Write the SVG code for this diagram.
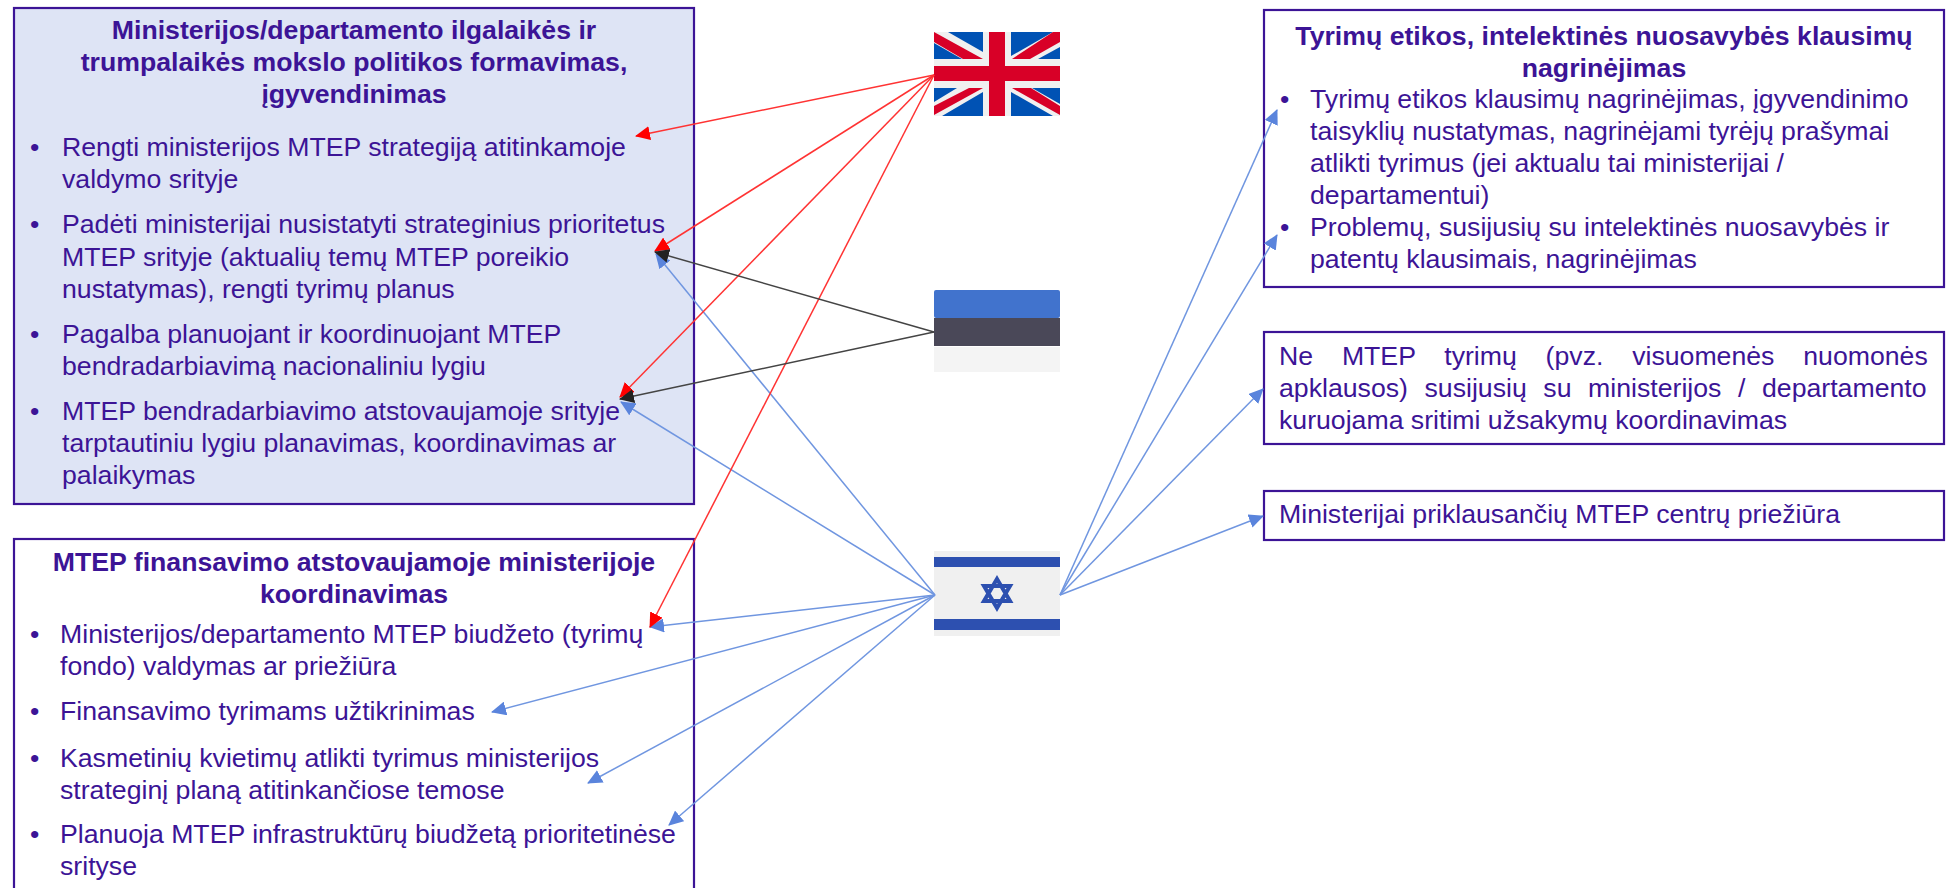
<svg xmlns="http://www.w3.org/2000/svg" width="1948" height="888" viewBox="0 0 1948 888">
<style>
text{font-family:"Liberation Sans",Arial,sans-serif;font-size:26.67px;fill:#3c1496}
.h{font-weight:bold;text-anchor:middle}
.b{fill:#fff;stroke:#3c1496;stroke-width:2.2}
.r{stroke:#f33;stroke-width:1.5;fill:none}
.k{stroke:#444;stroke-width:1.5;fill:none}
.u{stroke:#7096e0;stroke-width:1.5;fill:none}
</style>
<defs>
<marker id="mr" markerUnits="userSpaceOnUse" markerWidth="15" markerHeight="14" refX="14" refY="7" orient="auto"><path d="M0 0L15 7L0 14Z" fill="#f00"/></marker>
<marker id="mk" markerUnits="userSpaceOnUse" markerWidth="15" markerHeight="14" refX="14" refY="7" orient="auto"><path d="M0 0L15 7L0 14Z" fill="#222"/></marker>
<marker id="mu" markerUnits="userSpaceOnUse" markerWidth="15" markerHeight="14" refX="14" refY="7" orient="auto"><path d="M0 0L15 7L0 14Z" fill="#5a84dc"/></marker>
</defs>
<g id="box-policy">
<rect class="b" x="14" y="8" width="680" height="496" style="fill:#dee4f5"/>
<text class="h" x="354" y="39">Ministerijos/departamento ilgalaikės ir</text>
<text class="h" x="354" y="71">trumpalaikės mokslo politikos formavimas,</text>
<text class="h" x="354" y="103">įgyvendinimas</text>
<text x="30" y="156">•</text><text x="62" y="156">Rengti ministerijos MTEP strategiją atitinkamoje</text>
<text x="62" y="188">valdymo srityje</text>
<text x="30" y="233">•</text><text x="62" y="233">Padėti ministerijai nusistatyti strateginius prioritetus</text>
<text x="62" y="266">MTEP srityje (aktualių temų MTEP poreikio</text>
<text x="62" y="298">nustatymas), rengti tyrimų planus</text>
<text x="30" y="343">•</text><text x="62" y="343">Pagalba planuojant ir koordinuojant MTEP</text>
<text x="62" y="375">bendradarbiavimą nacionaliniu lygiu</text>
<text x="30" y="420">•</text><text x="62" y="420">MTEP bendradarbiavimo atstovaujamoje srityje</text>
<text x="62" y="452">tarptautiniu lygiu planavimas, koordinavimas ar</text>
<text x="62" y="484">palaikymas</text>
</g>
<g id="box-funding">
<rect class="b" x="14" y="539" width="680" height="360"/>
<text class="h" x="354" y="571">MTEP finansavimo atstovaujamoje ministerijoje</text>
<text class="h" x="354" y="603">koordinavimas</text>
<text x="30" y="643">•</text><text x="60" y="643">Ministerijos/departamento MTEP biudžeto (tyrimų</text>
<text x="60" y="675">fondo) valdymas ar priežiūra</text>
<text x="30" y="720">•</text><text x="60" y="720">Finansavimo tyrimams užtikrinimas</text>
<text x="30" y="767">•</text><text x="60" y="767">Kasmetinių kvietimų atlikti tyrimus ministerijos</text>
<text x="60" y="799">strateginį planą atitinkančiose temose</text>
<text x="30" y="843">•</text><text x="60" y="843">Planuoja MTEP infrastruktūrų biudžetą prioritetinėse</text>
<text x="60" y="875">srityse</text>
</g>
<g id="box-ethics">
<rect class="b" x="1264" y="10" width="680" height="277"/>
<text class="h" x="1604" y="45">Tyrimų etikos, intelektinės nuosavybės klausimų</text>
<text class="h" x="1604" y="77">nagrinėjimas</text>
<text x="1280" y="108">•</text><text x="1310" y="108">Tyrimų etikos klausimų nagrinėjimas, įgyvendinimo</text>
<text x="1310" y="140">taisyklių nustatymas, nagrinėjami tyrėjų prašymai</text>
<text x="1310" y="172">atlikti tyrimus (jei aktualu tai ministerijai /</text>
<text x="1310" y="204">departamentui)</text>
<text x="1280" y="236">•</text><text x="1310" y="236">Problemų, susijusių su intelektinės nuosavybės ir</text>
<text x="1310" y="268">patentų klausimais, nagrinėjimas</text>
</g>
<g id="box-orders">
<rect class="b" x="1264" y="332" width="680" height="112"/>
<text x="1279" y="365" word-spacing="21.4">Ne MTEP tyrimų (pvz. visuomenės nuomonės</text>
<text x="1279" y="397" word-spacing="9.2">apklausos) susijusių su ministerijos / departamento</text>
<text x="1279" y="429">kuruojama sritimi užsakymų koordinavimas</text>
</g>
<g id="box-centres">
<rect class="b" x="1264" y="491" width="680" height="49"/>
<text x="1279" y="523">Ministerijai priklausančių MTEP centrų priežiūra</text>
</g>
<g id="flag-uk">
<rect x="934" y="32" width="126" height="84" fill="#f0f0f0"/>
<path fill="#0052b4" d="M948 32H983V52ZM934 43L962 59H934ZM1011 32H1053L1011 56ZM1060 47L1038 59H1060ZM934 88H957L934 102ZM942 116L983 92V116ZM1032 88H1060V104ZM1011 92L1053 116H1011Z"/>
<path fill="#d80027" d="M989 32H1005V66H1060V81H1005V116H989V81H934V66H989ZM934 32V42L963 59H983ZM1053 32L1012 59H1030L1060 42V32ZM934 106L969 88H983L934 115ZM1012 88L1060 115V106L1031 88Z"/>
</g>
<g id="flag-ee">
<rect x="934" y="290" width="126" height="28" rx="2" fill="#4173cd"/>
<rect x="934" y="318" width="126" height="28" fill="#4a4858"/>
<rect x="934" y="347" width="126" height="25" fill="#f4f4f4"/>
</g>
<g id="flag-il">
<rect x="934" y="551" width="126" height="85" fill="#f0f0f0"/>
<rect x="934" y="557" width="126" height="10" fill="#2d50b0"/>
<rect x="934" y="619" width="126" height="11" fill="#2d50b0"/>
<path d="M997 579L1010 601H984ZM997 608L1010 586H984Z" fill="none" stroke="#2d50b0" stroke-width="4"/>
</g>
<g id="connectors">
<line class="u" x1="935" y1="595" x2="656" y2="254" marker-end="url(#mu)"/>
<line class="u" x1="935" y1="595" x2="621" y2="402" marker-end="url(#mu)"/>
<line class="u" x1="935" y1="595" x2="650" y2="627" marker-end="url(#mu)"/>
<line class="u" x1="935" y1="595" x2="492" y2="712" marker-end="url(#mu)"/>
<line class="u" x1="935" y1="595" x2="588" y2="783" marker-end="url(#mu)"/>
<line class="u" x1="935" y1="595" x2="669" y2="825" marker-end="url(#mu)"/>
<line class="u" x1="1060" y1="595" x2="1277" y2="110" marker-end="url(#mu)"/>
<line class="u" x1="1060" y1="595" x2="1277" y2="235" marker-end="url(#mu)"/>
<line class="u" x1="1060" y1="595" x2="1263" y2="389" marker-end="url(#mu)"/>
<line class="u" x1="1060" y1="595" x2="1263" y2="516" marker-end="url(#mu)"/>
<line class="r" x1="934" y1="75" x2="636" y2="136" marker-end="url(#mr)"/>
<line class="r" x1="934" y1="75" x2="655" y2="251" marker-end="url(#mr)"/>
<line class="r" x1="934" y1="75" x2="620" y2="397" marker-end="url(#mr)"/>
<line class="r" x1="934" y1="75" x2="650" y2="627" marker-end="url(#mr)"/>
<line class="k" x1="934" y1="332" x2="655" y2="252" marker-end="url(#mk)"/>
<line class="k" x1="934" y1="332" x2="620" y2="399" marker-end="url(#mk)"/>
</g>
</svg>
